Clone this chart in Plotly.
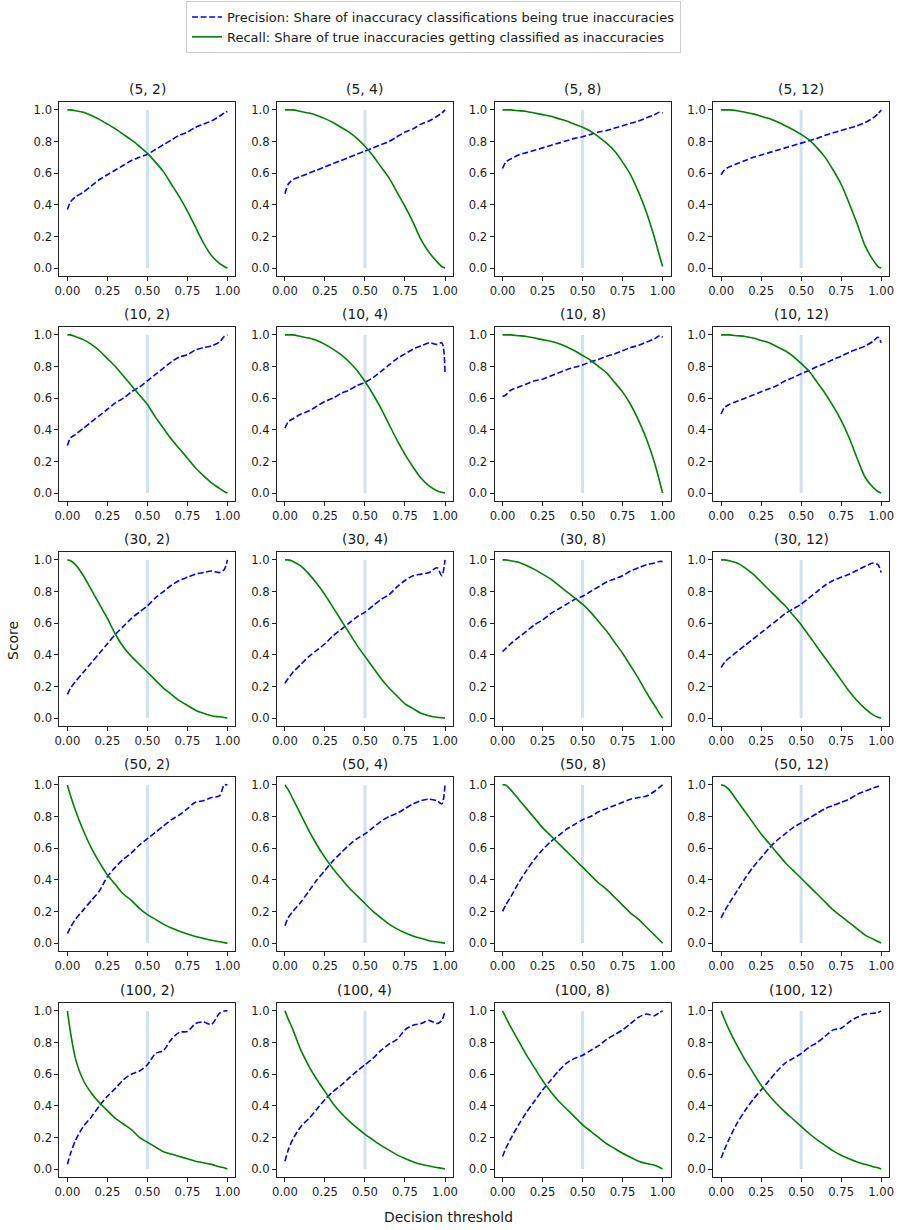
import plotly.graph_objects as go

# ---------------- data ----------------
thresholds = [0.0, 0.02, 0.05, 0.1, 0.15, 0.2, 0.25, 0.3, 0.35, 0.4, 0.45, 0.5,
              0.55, 0.6, 0.65, 0.7, 0.75, 0.8, 0.85, 0.9, 0.95, 0.98, 1.0]

row_sizes = [5, 10, 30, 50, 100]
col_sizes = [2, 4, 8, 12]

x_tick_vals = [0.0, 0.25, 0.5, 0.75, 1.0]
x_tick_text = ["0.00", "0.25", "0.50", "0.75", "1.00"]
y_tick_vals = [0.0, 0.2, 0.4, 0.6, 0.8, 1.0]
y_tick_text = ["0.0", "0.2", "0.4", "0.6", "0.8", "1.0"]

decision_line_x = 0.5
decision_line_y = [0.0, 1.0]

# (5, *)
prec_5_2 = [0.37, 0.42, 0.45, 0.48, 0.52, 0.56, 0.59, 0.62, 0.65, 0.68, 0.70, 0.72, 0.75, 0.78, 0.81, 0.84, 0.86, 0.89, 0.91, 0.93, 0.96, 0.98, 0.99]
rec_5_2 = [1.0, 1.0, 0.995, 0.985, 0.965, 0.94, 0.91, 0.88, 0.845, 0.81, 0.77, 0.725, 0.67, 0.61, 0.53, 0.45, 0.36, 0.26, 0.16, 0.08, 0.03, 0.01, 0.0]
prec_5_4 = [0.47, 0.53, 0.56, 0.58, 0.60, 0.62, 0.64, 0.66, 0.68, 0.70, 0.72, 0.74, 0.76, 0.78, 0.80, 0.83, 0.86, 0.88, 0.91, 0.93, 0.96, 0.98, 1.0]
rec_5_4 = [1.0, 1.0, 1.0, 0.99, 0.98, 0.965, 0.945, 0.92, 0.89, 0.86, 0.82, 0.77, 0.71, 0.64, 0.57, 0.48, 0.39, 0.29, 0.18, 0.10, 0.04, 0.01, 0.0]
prec_5_8 = [0.63, 0.67, 0.69, 0.715, 0.73, 0.745, 0.76, 0.775, 0.79, 0.805, 0.82, 0.83, 0.845, 0.86, 0.87, 0.885, 0.90, 0.915, 0.93, 0.95, 0.97, 0.985, 0.98]
rec_5_8 = [1.0, 1.0, 1.0, 0.995, 0.99, 0.98, 0.97, 0.96, 0.945, 0.93, 0.91, 0.89, 0.865, 0.83, 0.79, 0.74, 0.67, 0.59, 0.48, 0.35, 0.19, 0.08, 0.01]
prec_5_12 = [0.59, 0.62, 0.64, 0.66, 0.68, 0.70, 0.715, 0.73, 0.745, 0.76, 0.775, 0.79, 0.805, 0.82, 0.84, 0.855, 0.87, 0.885, 0.90, 0.92, 0.95, 0.975, 1.0]
rec_5_12 = [1.0, 1.0, 1.0, 0.995, 0.985, 0.975, 0.96, 0.945, 0.925, 0.90, 0.875, 0.845, 0.81, 0.76, 0.70, 0.62, 0.53, 0.41, 0.28, 0.14, 0.05, 0.01, 0.0]

# (10, *)
prec_10_2 = [0.30, 0.35, 0.37, 0.41, 0.45, 0.49, 0.53, 0.57, 0.60, 0.64, 0.67, 0.71, 0.75, 0.79, 0.83, 0.86, 0.875, 0.905, 0.92, 0.93, 0.955, 0.99, 1.0]
rec_10_2 = [1.0, 1.0, 0.99, 0.97, 0.94, 0.90, 0.85, 0.80, 0.74, 0.68, 0.62, 0.56, 0.48, 0.41, 0.34, 0.28, 0.22, 0.16, 0.11, 0.065, 0.03, 0.01, 0.0]
prec_10_4 = [0.41, 0.45, 0.47, 0.50, 0.52, 0.55, 0.58, 0.60, 0.63, 0.65, 0.68, 0.70, 0.73, 0.77, 0.81, 0.85, 0.88, 0.91, 0.93, 0.95, 0.94, 0.95, 0.76]
rec_10_4 = [1.0, 1.0, 1.0, 0.99, 0.98, 0.965, 0.94, 0.91, 0.875, 0.83, 0.775, 0.705, 0.625, 0.535, 0.435, 0.335, 0.245, 0.165, 0.095, 0.045, 0.015, 0.005, 0.0]
prec_10_8 = [0.61, 0.62, 0.65, 0.67, 0.69, 0.71, 0.72, 0.74, 0.76, 0.78, 0.795, 0.81, 0.83, 0.845, 0.865, 0.88, 0.90, 0.92, 0.935, 0.955, 0.975, 0.995, 0.985]
rec_10_8 = [1.0, 1.0, 1.0, 0.995, 0.99, 0.98, 0.97, 0.96, 0.945, 0.925, 0.90, 0.87, 0.84, 0.80, 0.76, 0.70, 0.64, 0.56, 0.46, 0.34, 0.19, 0.08, 0.0]
prec_10_12 = [0.50, 0.54, 0.56, 0.58, 0.60, 0.62, 0.64, 0.66, 0.68, 0.71, 0.73, 0.755, 0.775, 0.80, 0.82, 0.845, 0.865, 0.89, 0.91, 0.93, 0.96, 0.985, 0.95]
rec_10_12 = [1.0, 1.0, 1.0, 0.995, 0.99, 0.98, 0.965, 0.95, 0.925, 0.90, 0.865, 0.82, 0.77, 0.70, 0.63, 0.55, 0.46, 0.35, 0.22, 0.10, 0.035, 0.01, 0.0]

# (30, *)
prec_30_2 = [0.15, 0.19, 0.23, 0.29, 0.35, 0.41, 0.47, 0.53, 0.58, 0.63, 0.67, 0.71, 0.76, 0.80, 0.84, 0.87, 0.89, 0.91, 0.92, 0.93, 0.92, 0.94, 1.0]
rec_30_2 = [1.0, 0.995, 0.97, 0.90, 0.81, 0.72, 0.63, 0.53, 0.45, 0.39, 0.34, 0.29, 0.24, 0.19, 0.15, 0.11, 0.08, 0.05, 0.03, 0.015, 0.008, 0.004, 0.0]
prec_30_4 = [0.22, 0.25, 0.29, 0.34, 0.39, 0.43, 0.47, 0.52, 0.56, 0.60, 0.64, 0.67, 0.71, 0.75, 0.78, 0.83, 0.87, 0.90, 0.91, 0.92, 0.95, 0.90, 1.0]
rec_30_4 = [1.0, 1.0, 0.99, 0.96, 0.91, 0.85, 0.78, 0.70, 0.62, 0.54, 0.46, 0.39, 0.32, 0.25, 0.19, 0.14, 0.09, 0.06, 0.03, 0.015, 0.005, 0.002, 0.0]
prec_30_8 = [0.42, 0.44, 0.47, 0.51, 0.55, 0.59, 0.62, 0.66, 0.69, 0.72, 0.75, 0.77, 0.80, 0.83, 0.86, 0.88, 0.90, 0.93, 0.95, 0.97, 0.98, 0.99, 0.99]
rec_30_8 = [1.0, 1.0, 0.995, 0.985, 0.965, 0.94, 0.91, 0.88, 0.84, 0.80, 0.76, 0.72, 0.67, 0.61, 0.55, 0.48, 0.41, 0.33, 0.25, 0.16, 0.08, 0.03, 0.0]
prec_30_12 = [0.32, 0.35, 0.38, 0.42, 0.46, 0.50, 0.54, 0.58, 0.62, 0.66, 0.69, 0.72, 0.76, 0.80, 0.84, 0.87, 0.89, 0.91, 0.935, 0.96, 0.98, 0.97, 0.92]
rec_30_12 = [1.0, 1.0, 0.995, 0.98, 0.95, 0.91, 0.86, 0.81, 0.76, 0.71, 0.65, 0.59, 0.52, 0.45, 0.38, 0.31, 0.24, 0.17, 0.11, 0.06, 0.02, 0.005, 0.0]

# (50, *)
prec_50_2 = [0.06, 0.10, 0.15, 0.21, 0.27, 0.33, 0.42, 0.48, 0.53, 0.57, 0.62, 0.66, 0.70, 0.74, 0.78, 0.81, 0.85, 0.89, 0.90, 0.92, 0.93, 1.0, 1.0]
rec_50_2 = [1.0, 0.93, 0.84, 0.71, 0.60, 0.51, 0.43, 0.37, 0.31, 0.27, 0.22, 0.18, 0.15, 0.12, 0.095, 0.075, 0.057, 0.042, 0.03, 0.018, 0.008, 0.003, 0.0]
prec_50_4 = [0.11, 0.16, 0.20, 0.26, 0.33, 0.40, 0.46, 0.52, 0.57, 0.62, 0.66, 0.69, 0.73, 0.77, 0.80, 0.82, 0.85, 0.88, 0.90, 0.91, 0.90, 0.88, 1.0]
rec_50_4 = [1.0, 0.97, 0.91, 0.81, 0.71, 0.62, 0.54, 0.47, 0.41, 0.35, 0.30, 0.25, 0.20, 0.16, 0.12, 0.09, 0.065, 0.045, 0.03, 0.015, 0.007, 0.003, 0.0]
prec_50_8 = [0.20, 0.24, 0.29, 0.38, 0.46, 0.53, 0.59, 0.64, 0.68, 0.72, 0.75, 0.78, 0.80, 0.83, 0.85, 0.87, 0.89, 0.91, 0.92, 0.93, 0.96, 0.985, 1.0]
rec_50_8 = [1.0, 1.0, 0.97, 0.91, 0.85, 0.79, 0.73, 0.68, 0.63, 0.58, 0.53, 0.48, 0.43, 0.38, 0.34, 0.29, 0.24, 0.19, 0.15, 0.10, 0.05, 0.02, 0.0]
prec_50_12 = [0.16, 0.20, 0.25, 0.33, 0.41, 0.48, 0.54, 0.60, 0.65, 0.69, 0.73, 0.76, 0.79, 0.82, 0.85, 0.87, 0.89, 0.91, 0.94, 0.96, 0.98, 0.99, 1.0]
rec_50_12 = [1.0, 0.995, 0.97, 0.90, 0.83, 0.76, 0.69, 0.63, 0.57, 0.51, 0.46, 0.41, 0.36, 0.31, 0.26, 0.21, 0.17, 0.13, 0.09, 0.05, 0.025, 0.01, 0.0]

# (100, *)
prec_100_2 = [0.03, 0.10, 0.18, 0.27, 0.33, 0.40, 0.46, 0.51, 0.565, 0.60, 0.62, 0.66, 0.73, 0.75, 0.82, 0.865, 0.87, 0.92, 0.93, 0.915, 0.985, 1.0, 1.0]
rec_100_2 = [1.0, 0.86, 0.70, 0.56, 0.48, 0.42, 0.37, 0.32, 0.285, 0.25, 0.20, 0.17, 0.14, 0.11, 0.095, 0.08, 0.065, 0.05, 0.04, 0.03, 0.015, 0.008, 0.0]
prec_100_4 = [0.05, 0.12, 0.19, 0.27, 0.32, 0.38, 0.44, 0.49, 0.53, 0.575, 0.62, 0.66, 0.70, 0.75, 0.79, 0.82, 0.88, 0.91, 0.92, 0.94, 0.92, 0.94, 1.0]
rec_100_4 = [1.0, 0.95, 0.88, 0.75, 0.65, 0.565, 0.49, 0.415, 0.355, 0.305, 0.26, 0.22, 0.185, 0.15, 0.12, 0.09, 0.067, 0.047, 0.03, 0.02, 0.01, 0.005, 0.0]
prec_100_8 = [0.08, 0.13, 0.19, 0.28, 0.36, 0.43, 0.50, 0.56, 0.62, 0.67, 0.70, 0.72, 0.75, 0.78, 0.82, 0.85, 0.88, 0.92, 0.96, 0.98, 0.97, 0.99, 1.0]
rec_100_8 = [1.0, 0.96, 0.90, 0.81, 0.72, 0.64, 0.56, 0.49, 0.43, 0.38, 0.33, 0.28, 0.24, 0.20, 0.16, 0.13, 0.10, 0.075, 0.05, 0.035, 0.025, 0.012, 0.0]
prec_100_12 = [0.07, 0.12, 0.19, 0.29, 0.37, 0.44, 0.50, 0.56, 0.62, 0.67, 0.70, 0.73, 0.77, 0.80, 0.84, 0.88, 0.89, 0.93, 0.96, 0.98, 0.985, 0.99, 1.0]
rec_100_12 = [1.0, 0.95, 0.88, 0.78, 0.69, 0.61, 0.53, 0.465, 0.41, 0.36, 0.315, 0.27, 0.225, 0.185, 0.15, 0.115, 0.088, 0.065, 0.045, 0.03, 0.015, 0.008, 0.0]

precision_grid = [
    [prec_5_2, prec_5_4, prec_5_8, prec_5_12],
    [prec_10_2, prec_10_4, prec_10_8, prec_10_12],
    [prec_30_2, prec_30_4, prec_30_8, prec_30_12],
    [prec_50_2, prec_50_4, prec_50_8, prec_50_12],
    [prec_100_2, prec_100_4, prec_100_8, prec_100_12],
]
recall_grid = [
    [rec_5_2, rec_5_4, rec_5_8, rec_5_12],
    [rec_10_2, rec_10_4, rec_10_8, rec_10_12],
    [rec_30_2, rec_30_4, rec_30_8, rec_30_12],
    [rec_50_2, rec_50_4, rec_50_8, rec_50_12],
    [rec_100_2, rec_100_4, rec_100_8, rec_100_12],
]

precision_label = "Precision: Share of inaccuracy classifications being true inaccuracies"
recall_label = "Recall: Share of true inaccuracies getting classified as inaccuracies"

# ---------------- layout ----------------
W, H = 907, 1230
FONT = "DejaVu Sans"
TXT = "#1a1a1a"
col_left_px = [55, 275, 495, 716]
panel_w_px = 178
row_top_px = [102, 327, 552, 777, 1003]
panel_h_px = 174

fig = go.Figure()
layout_axes = {}
annotations = []

idx = 0
for r, n in enumerate(row_sizes):
    for c, k in enumerate(col_sizes):
        idx += 1
        xa = "x" if idx == 1 else f"x{idx}"
        ya = "y" if idx == 1 else f"y{idx}"
        first = idx == 1
        fig.add_trace(go.Scatter(
            x=[decision_line_x, decision_line_x], y=decision_line_y, mode="lines",
            line=dict(color="#cfe1f2", width=3), xaxis=xa, yaxis=ya,
            showlegend=False, hoverinfo="skip"))
        fig.add_trace(go.Scatter(
            x=thresholds, y=precision_grid[r][c], mode="lines",
            line=dict(color="#0000ff", width=1.6, dash="6px,2.6px", shape="spline", smoothing=0.8),
            name=precision_label, legendgroup="p", showlegend=first,
            xaxis=xa, yaxis=ya))
        fig.add_trace(go.Scatter(
            x=thresholds, y=recall_grid[r][c], mode="lines",
            line=dict(color="#008000", width=1.6, shape="spline", smoothing=0.8),
            name=recall_label, legendgroup="r", showlegend=first,
            xaxis=xa, yaxis=ya))

        x0 = col_left_px[c] / W
        x1 = (col_left_px[c] + panel_w_px) / W
        y1 = 1 - row_top_px[r] / H
        y0 = 1 - (row_top_px[r] + panel_h_px) / H
        common = dict(showline=True, mirror=True, linecolor="#222222", linewidth=1,
                      ticks="outside", ticklen=4, tickwidth=1, tickcolor="#222222",
                      showgrid=False, zeroline=False, range=[-0.05, 1.05],
                      tickfont=dict(family=FONT, size=11.6, color=TXT),
                      fixedrange=True)
        layout_axes["xaxis" if idx == 1 else f"xaxis{idx}"] = dict(
            common, domain=[x0, x1], anchor=ya,
            tickvals=x_tick_vals, ticktext=x_tick_text)
        layout_axes["yaxis" if idx == 1 else f"yaxis{idx}"] = dict(
            common, domain=[y0, y1], anchor=xa,
            tickvals=y_tick_vals, ticktext=y_tick_text)
        annotations.append(dict(
            text=f"({n}, {k})", x=(x0 + x1) / 2, y=y1, xref="paper", yref="paper",
            xanchor="center", yanchor="bottom", yshift=3, showarrow=False,
            font=dict(family=FONT, size=13.9, color=TXT)))

annotations.append(dict(
    text="Score", x=8 / W, y=1 - 640 / H, xref="paper", yref="paper",
    textangle=-90, showarrow=False, xanchor="center", yanchor="middle",
    font=dict(family=FONT, size=13.9, color=TXT)))
annotations.append(dict(
    text="Decision threshold", x=448 / W, y=1 - 1217 / H, xref="paper", yref="paper",
    showarrow=False, xanchor="center", yanchor="middle",
    font=dict(family=FONT, size=13.9, color=TXT)))

fig.update_layout(
    width=W, height=H,
    margin=dict(l=0, r=0, t=0, b=0),
    paper_bgcolor="white", plot_bgcolor="white",
    font=dict(family=FONT, color=TXT),
    annotations=annotations,
    legend=dict(
        x=183 / W, y=1 - 1 / H, xanchor="left", yanchor="top",
        bgcolor="white", bordercolor="#cccccc", borderwidth=1,
        font=dict(family=FONT, size=13.0, color=TXT),
        tracegroupgap=0, itemwidth=30),
    showlegend=True,
    **layout_axes,
)

fig.write_html("out.html", config={"displayModeBar": False},
               post_script="document.body.style.margin='0px';")
